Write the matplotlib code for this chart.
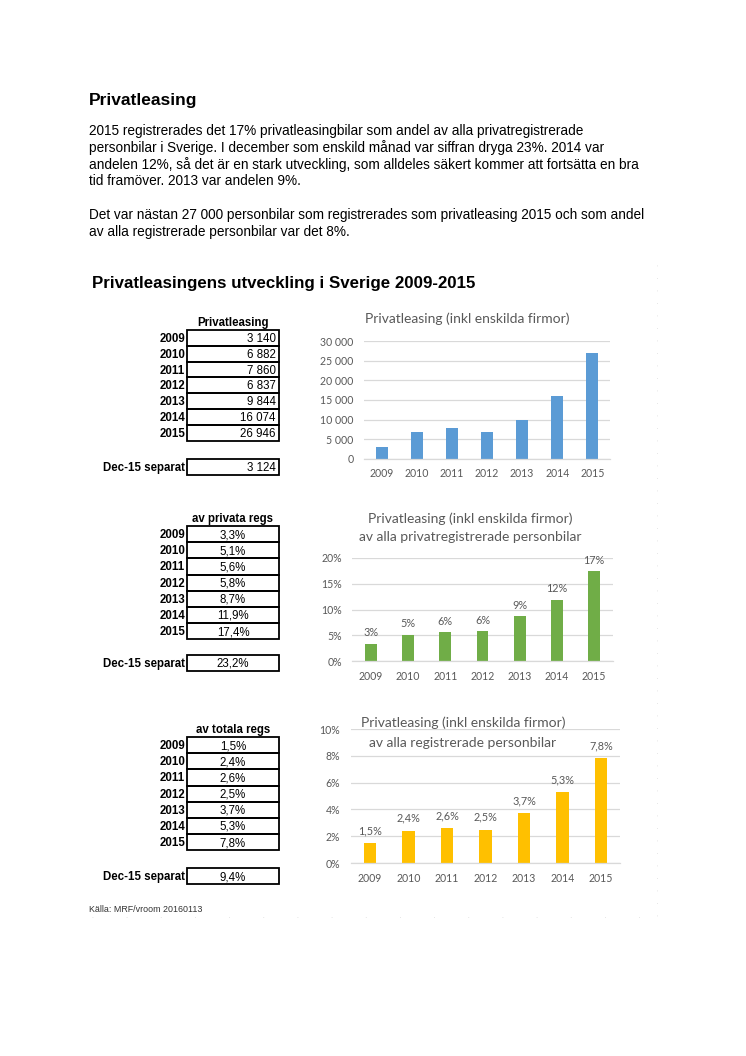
import matplotlib
matplotlib.use('Agg')
import matplotlib.pyplot as plt
from matplotlib.patches import Rectangle
from matplotlib.lines import Line2D

# ---------------- data ----------------
years = ['2009', '2010', '2011', '2012', '2013', '2014', '2015']
privatleasing = [3140, 6882, 7860, 6837, 9844, 16074, 26946]
andel_privata = [3.3, 5.1, 5.6, 5.8, 8.7, 11.9, 17.4]
andel_totala = [1.5, 2.4, 2.6, 2.5, 3.7, 5.3, 7.8]
dec15_privatleasing = 3124
dec15_privata = 23.2
dec15_totala = 9.4
ticks_count = [0, 5000, 10000, 15000, 20000, 25000, 30000]
ticks_privata = [0, 5, 10, 15, 20]
ticks_totala = [0, 2, 4, 6, 8, 10]

heading = "Privatleasing"
paragraph = [
    "2015 registrerades det 17% privatleasingbilar som andel av alla privatregistrerade",
    "personbilar i Sverige. I december som enskild månad var siffran dryga 23%. 2014 var",
    "andelen 12%, så det är en stark utveckling, som alldeles säkert kommer att fortsätta en bra",
    "tid framöver. 2013 var andelen 9%.",
    "",
    "Det var nästan 27 000 personbilar som registrerades som privatleasing 2015 och som andel",
    "av alla registrerade personbilar var det 8%.",
]
section_title = "Privatleasingens utveckling i Sverige 2009-2015"
source = "Källa: MRF/vroom 20160113"

# ---------------- helpers ----------------
W, H = 746, 1056
fig = plt.figure(figsize=(W / 100, H / 100), dpi=100)
fig.patch.set_facecolor('white')

TF = ['Liberation Sans', 'DejaVu Sans']
CF = ['Lato', 'DejaVu Sans']
GRAY = '#595959'
GRID = '#D9D9D9'
TS = 8.3  # table font size


def fx(x):
    return x / W


def fy(y):
    return 1 - y / H


def fmt_int(v):
    return f"{v:,}".replace(',', ' ')


def fmt_pct(v):
    return f"{v:.1f}".replace('.', ',') + '%'


# ---------------- page text ----------------
fig.text(fx(89), fy(105), heading, family=TF, fontsize=12.5, fontweight='bold', va='baseline', ha='left')
y = 135
for line in paragraph:
    if line:
        fig.text(fx(89), fy(y), line, family=TF, fontsize=9.8, va='baseline', ha='left')
    y += 16.8
fig.text(fx(92), fy(288), section_title, family=TF, fontsize=12.2, fontweight='bold', va='baseline', ha='left')
fig.text(fx(89), fy(912), source, family=TF, fontsize=6.4, color='#333333', va='baseline', ha='left')

# faint page-edge dots
fig.add_artist(Line2D([fx(657), fx(657)], [fy(265), fy(917)], transform=fig.transFigure,
                      color='#dddddd', lw=0.6, linestyle=(0, (1, 14))))
fig.add_artist(Line2D([fx(92), fx(657)], [fy(917), fy(917)], transform=fig.transFigure,
                      color='#dddddd', lw=0.6, linestyle=(0, (1, 40))))


# ---------------- tables ----------------
def draw_table(header, values, dec_value, top, rowh, dec_center, fmt, align):
    x0, x1 = 187, 279
    fig.text(fx(233), fy(top - 4), header, family=TF, fontsize=TS, fontweight='bold',
             ha='center', va='baseline')
    vx, vha = (276, 'right') if align == 'right' else (233, 'center')
    for i, (yr, v) in enumerate(zip(years, values)):
        yt = top + i * rowh
        fig.add_artist(Rectangle((fx(x0), fy(yt + rowh)), fx(x1) - fx(x0), rowh / H,
                                 transform=fig.transFigure, fill=False, ec='black', lw=1.3))
        yb = yt + rowh / 2 + 4
        fig.text(fx(185), fy(yb), yr, family=TF, fontsize=TS, fontweight='bold', ha='right', va='baseline')
        fig.text(fx(vx), fy(yb), fmt(v), family=TF, fontsize=TS, ha=vha, va='baseline')
    dh = 16
    fig.add_artist(Rectangle((fx(x0), fy(dec_center + dh / 2)), fx(x1) - fx(x0), dh / H,
                             transform=fig.transFigure, fill=False, ec='black', lw=1.3))
    fig.text(fx(185), fy(dec_center + 4), "Dec-15 separat", family=TF, fontsize=TS, fontweight='bold',
             ha='right', va='baseline')
    fig.text(fx(vx), fy(dec_center + 4), fmt(dec_value), family=TF, fontsize=TS, ha=vha, va='baseline')


draw_table("Privatleasing", privatleasing, dec15_privatleasing, 330, 15.83, 467, fmt_int, 'right')
draw_table("av privata regs", andel_privata, dec15_privata, 526, 16.17, 663, fmt_pct, 'center')
draw_table("av totala regs", andel_totala, dec15_totala, 737, 16.17, 876, fmt_pct, 'center')


# ---------------- charts ----------------
def make_axes(x0, x1, ytop, ybot):
    return fig.add_axes([fx(x0), fy(ybot), (x1 - x0) / W, (ybot - ytop) / H])


def style(ax, yticks, ylabels, xpad):
    ax.set_xlim(-0.5, len(years) - 0.5)
    ax.set_ylim(yticks[0], yticks[-1])
    ax.set_yticks(yticks)
    ax.set_yticklabels(ylabels)
    ax.set_xticks(range(len(years)))
    ax.set_xticklabels(years)
    for s in ['top', 'right', 'left']:
        ax.spines[s].set_visible(False)
    ax.spines['bottom'].set_color(GRID)
    ax.spines['bottom'].set_linewidth(0.9)
    ax.tick_params(axis='both', length=0, labelsize=7.6, labelcolor=GRAY)
    ax.tick_params(axis='y', pad=7.5)
    ax.tick_params(axis='x', pad=xpad)
    for lab in ax.get_xticklabels() + ax.get_yticklabels():
        lab.set_fontfamily(CF)
    ax.yaxis.grid(True, color=GRID, lw=0.9)
    ax.set_axisbelow(True)
    ax.patch.set_alpha(0)


# Chart 1
ax1 = make_axes(364, 610, 341, 459)
ax1.bar(range(len(years)), privatleasing, width=0.34, color='#5B9BD5')
style(ax1, ticks_count, [fmt_int(t) for t in ticks_count], 6.5)
fig.text(fx(467), fy(319), "Privatleasing (inkl enskilda firmor)", family=CF, fontsize=10,
         color=GRAY, ha='center', va='center')

# Chart 2
ax2 = make_axes(352.4, 612.6, 558, 661)
ax2.bar(range(len(years)), andel_privata, width=0.32, color='#70AD47')
style(ax2, ticks_privata, [f"{t}%" for t in ticks_privata], 7)
for i, v in enumerate(andel_privata):
    ax2.annotate(f"{round(v):d}%", (i, v), xytext=(0, 4), textcoords='offset points',
                 ha='center', va='bottom', fontsize=7.8, color=GRAY, family=CF)
fig.text(fx(470), fy(519), "Privatleasing (inkl enskilda firmor)", family=CF, fontsize=10,
         color=GRAY, ha='center', va='center')
fig.text(fx(470), fy(537), "av alla privatregistrerade personbilar", family=CF, fontsize=10,
         color=GRAY, ha='center', va='center')

# Chart 3
ax3 = make_axes(350.75, 620.25, 729, 863)
ax3.bar(range(len(years)), andel_totala, width=0.32, color='#FFC000')
style(ax3, ticks_totala, [f"{t}%" for t in ticks_totala], 7.5)
for i, v in enumerate(andel_totala):
    ax3.annotate(fmt_pct(v), (i, v), xytext=(0, 5), textcoords='offset points',
                 ha='center', va='bottom', fontsize=7.8, color=GRAY, family=CF)
fig.text(fx(463), fy(723), "Privatleasing (inkl enskilda firmor)", family=CF, fontsize=10,
         color=GRAY, ha='center', va='center', zorder=5)
fig.text(fx(463), fy(743), "av alla registrerade personbilar", family=CF, fontsize=10,
         color=GRAY, ha='center', va='center', zorder=5)

fig.savefig('out.png', dpi=100, facecolor='white')
